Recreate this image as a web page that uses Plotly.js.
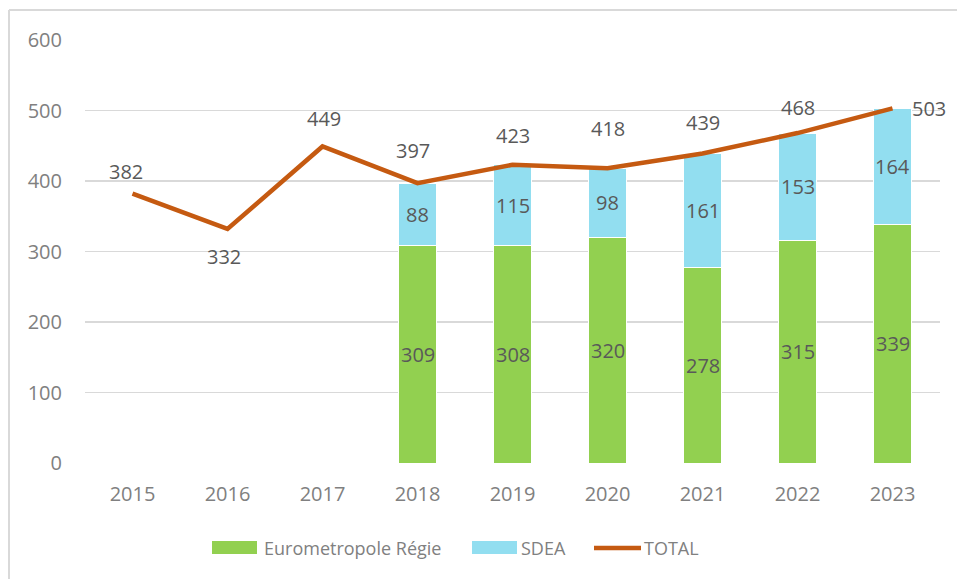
<!DOCTYPE html>
<html>
<head>
<meta charset="utf-8">
<script src="https://cdn.plot.ly/plotly-3.0.1.min.js"></script>
<style>
html,body{margin:0;padding:0;background:#fff;}
#chart{width:957px;height:579px;}
</style>
</head>
<body>
<div id="chart"></div>
<script>
// ---- data ----
var years = ['2015','2016','2017','2018','2019','2020','2021','2022','2023'];
var regie = [null,null,null,309,308,320,278,315,339];
var sdea  = [null,null,null,88,115,98,161,153,164];
var total = [382,332,449,397,423,418,439,468,503];
var seriesNames = ['Eurometropole Régie','SDEA','TOTAL'];
var yTicks = [0,100,200,300,400,500,600];

// ---- styles ----
var FONT = 'Open Sans, sans-serif';
var GREEN = '#92D050', BLUE = '#92DEF0', ORANGE = '#C55A11';
var LABEL = '#595959', TICK = '#808080';
var W = 957, H = 579, ML = 85, MR = 17, MT = 40, MB = 116;
var PW = W - ML - MR, PH = H - MT - MB;
function px(x){ return (x - ML) / PW; }
function py(y){ return (H - MB - y) / PH; }

// label offsets for TOTAL labels (pixels)
var totShiftY = [22,-28,28,33,29,40,31,26,0];
var totShiftX = [-7,-4,1,-5,0,0,0,0,36];

var traces = [
  {type:'bar', name:seriesNames[0], x:years, y:regie, marker:{color:GREEN, line:{color:'#ffffff', width:1}},
   width:0.4, textposition:'none', hoverinfo:'skip', showlegend:false},
  {type:'bar', name:seriesNames[1], x:years, y:sdea, marker:{color:BLUE, line:{color:'#ffffff', width:1}},
   width:0.4, textposition:'none', hoverinfo:'skip', showlegend:false},
  {type:'scatter', mode:'lines', name:seriesNames[2], x:years, y:total,
   line:{color:ORANGE, width:4.5, shape:'linear'}, hoverinfo:'skip', showlegend:false}
];

var annotations = [];
// bar segment labels, centred in each segment (x as category index)
regie.forEach(function(v,i){
  if (v == null) return;
  annotations.push({x:i, y:v/2, xref:'x', yref:'y', text:String(v), showarrow:false,
    xanchor:'center', yanchor:'middle', font:{family:FONT, size:20, color:LABEL}});
  var s = sdea[i];
  annotations.push({x:i, y:v + s/2, xref:'x', yref:'y', text:String(s), showarrow:false,
    xanchor:'center', yanchor:'middle', font:{family:FONT, size:20, color:LABEL}});
});
// TOTAL labels
total.forEach(function(v,i){
  annotations.push({x:i, y:v, xref:'x', yref:'y', text:String(v), showarrow:false,
    xshift:totShiftX[i], yshift:totShiftY[i], xanchor:'center', yanchor:'middle',
    font:{family:FONT, size:20, color:LABEL}});
});
// legend texts
annotations.push({xref:'paper', yref:'paper', x:px(262), y:py(548), xanchor:'left', yanchor:'middle', showarrow:false,
  text:seriesNames[0], font:{family:FONT, size:18, color:TICK}});
annotations.push({xref:'paper', yref:'paper', x:px(519), y:py(548), xanchor:'left', yanchor:'middle', showarrow:false,
  text:seriesNames[1], font:{family:FONT, size:18, color:TICK}});
annotations.push({xref:'paper', yref:'paper', x:px(642), y:py(548), xanchor:'left', yanchor:'middle', showarrow:false,
  text:seriesNames[2], font:{family:FONT, size:18, color:TICK}});

var shapes = [
  // frame
  {type:'line', xref:'paper', yref:'paper', x0:px(9), x1:px(9), y0:py(582), y1:py(10), line:{color:'#d9d9d9', width:2}},
  {type:'line', xref:'paper', yref:'paper', x0:px(9), x1:px(960), y0:py(10), y1:py(10), line:{color:'#d9d9d9', width:2}},
  // legend keys
  {type:'rect', xref:'paper', yref:'paper', x0:px(212), x1:px(257), y0:py(554), y1:py(541), fillcolor:GREEN, line:{width:0}},
  {type:'rect', xref:'paper', yref:'paper', x0:px(472), x1:px(517), y0:py(554), y1:py(541), fillcolor:BLUE, line:{width:0}},
  {type:'line', xref:'paper', yref:'paper', x0:px(594), x1:px(641), y0:py(548), y1:py(548), line:{color:ORANGE, width:4.5}}
];

var layout = {
  width:W, height:H,
  margin:{l:ML, r:MR, t:MT, b:MB, pad:0},
  paper_bgcolor:'#ffffff', plot_bgcolor:'#ffffff',
  barmode:'stack',
  showlegend:false,
  font:{family:FONT, size:20, color:TICK},
  xaxis:{type:'category', categoryorder:'array', categoryarray:years, range:[-0.5, years.length-0.5], autorange:false,
    showgrid:false, zeroline:false, showline:false, ticks:'', tickfont:{family:FONT, size:20, color:TICK},
    ticklabelstandoff:17, fixedrange:true},
  yaxis:{range:[0,600], autorange:false, tickvals:yTicks, ticktext:yTicks.map(String), showgrid:true, gridcolor:'#d9d9d9', gridwidth:1.3,
    zeroline:false, showline:false, ticks:'', tickfont:{family:FONT, size:20, color:TICK}, ticklabelstandoff:22, fixedrange:true},
  annotations:annotations,
  shapes:shapes
};

Plotly.newPlot('chart', traces, layout, {displayModeBar:false, staticPlot:true});
</script>
</body>
</html>
